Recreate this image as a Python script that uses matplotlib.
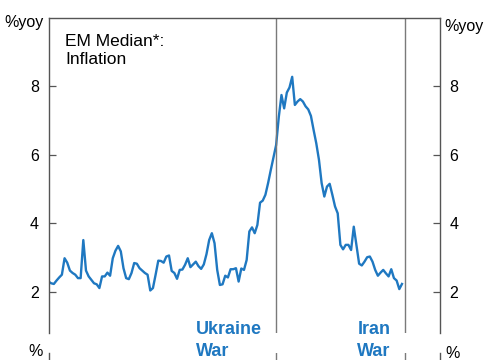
import matplotlib
matplotlib.use("Agg")
import matplotlib.pyplot as plt
import numpy as np

plt.rcParams['font.family'] = ['Liberation Sans', 'DejaVu Sans']

# Monthly EM median inflation (% yoy), month index 0 = first observation
inflation = [
    2.30, 2.25, 2.23, 2.33, 2.42, 2.50, 2.98, 2.85, 2.62, 2.55,
    2.50, 2.40, 2.40, 3.51, 2.62, 2.45, 2.35, 2.25, 2.22, 2.11,
    2.45, 2.45, 2.56, 2.47, 2.98, 3.20, 3.34, 3.18, 2.69, 2.40,
    2.37, 2.55, 2.84, 2.82, 2.69, 2.62, 2.55, 2.50, 2.04, 2.11,
    2.50, 2.91, 2.90, 2.85, 3.03, 3.06, 2.61, 2.55, 2.38, 2.64,
    2.65, 2.79, 2.98, 2.72, 2.80, 2.88, 2.75, 2.67, 2.80, 3.10,
    3.51, 3.71, 3.42, 2.64, 2.20, 2.22, 2.47, 2.42, 2.66, 2.66,
    2.69, 2.30, 2.68, 2.64, 2.93, 3.76, 3.88, 3.71, 3.95, 4.60,
    4.66, 4.83, 5.17, 5.55, 5.91, 6.28, 7.10, 7.74, 7.35, 7.81,
    7.96, 8.27, 7.45, 7.55, 7.62, 7.55, 7.41, 7.32, 7.13, 6.72,
    6.33, 5.85, 5.17, 4.78, 5.07, 5.15, 4.83, 4.49, 4.29, 3.37,
    3.24, 3.37, 3.37, 3.22, 3.90, 3.37, 2.82, 2.77, 2.88, 3.01,
    3.03, 2.88, 2.64, 2.47, 2.56, 2.64, 2.54, 2.45, 2.66, 2.40,
    2.33, 2.08, 2.23,
]
months = np.arange(len(inflation))

event_labels = ["Ukraine\nWar", "Iran\nWar"]
event_months = [85, 133]

y_ticks = [2, 4, 6, 8]
panel_title = "EM Median*:\nInflation"
unit_top = "%yoy"
unit_bottom = "%"

BLUE = "#1f78c1"
SPINE = "#555555"
VLINE = "#7a7a7a"

W, H = 485, 360
fig = plt.figure(figsize=(W / 100, H / 100), dpi=100)

def fx(px):
    return px / W

def fy(py):
    return 1 - py / H

left_px, right_px = 48.5, 440
top_px, bot_px = 17.5, 333

ax = fig.add_axes([fx(left_px), fy(bot_px), fx(right_px - left_px), (bot_px - top_px) / H])
ax.plot(months, inflation, color=BLUE, lw=1.7, solid_joinstyle='round')
ax.set_xlim(0, 146.2)
ax.set_ylim(0.8, 10)
for m in event_months:
    ax.axvline(m, color=VLINE, lw=1.0)

for side in ['left', 'right', 'top']:
    ax.spines[side].set_color(SPINE)
    ax.spines[side].set_linewidth(1.0)
ax.spines['bottom'].set_visible(False)
ax.set_xticks([])
ax.set_yticks(y_ticks)
ax.tick_params(axis='y', direction='in', length=5, width=0.9, color=SPINE,
               labelsize=11.5, pad=7, left=True, right=True,
               labelleft=True, labelright=True)

fig.text(fx(65), fy(33.5), panel_title, ha='left', va='top',
         fontsize=12.5, linespacing=1.32)

fig.text(fx(4), fy(22), unit_top, ha='left', va='center', fontsize=11.5)
fig.text(fx(444), fy(26), unit_top, ha='left', va='center', fontsize=11.5)

# Lower panel (only its top edge is visible)
ax2 = fig.add_axes([fx(left_px), -0.5, fx(right_px - left_px), 0.5 + fy(353)])
ax2.set_xlim(0, 146.2)
ax2.set_ylim(0, 1)
for m in event_months:
    ax2.axvline(m, color=VLINE, lw=1.0)
for side in ['left', 'right']:
    ax2.spines[side].set_color(SPINE)
    ax2.spines[side].set_linewidth(1.0)
ax2.spines['top'].set_visible(False)
ax2.spines['bottom'].set_visible(False)
ax2.set_xticks([])
ax2.set_yticks([])
fig.text(fx(28), fy(352), unit_bottom, ha='left', va='center', fontsize=11.5)
fig.text(fx(445), fy(354), unit_bottom, ha='left', va='center', fontsize=11.5)

# Event labels
trans = matplotlib.transforms.blended_transform_factory(ax.transData, fig.transFigure)
offset = matplotlib.transforms.ScaledTranslation(-14 / 100, 0, fig.dpi_scale_trans)
for lab, m in zip(event_labels, event_months):
    fig.text(m, fy(321), lab, transform=trans + offset, ha='right', va='top',
             multialignment='left', fontsize=13, fontweight='bold', color=BLUE,
             linespacing=1.35)

fig.savefig("out.png", dpi=100)
